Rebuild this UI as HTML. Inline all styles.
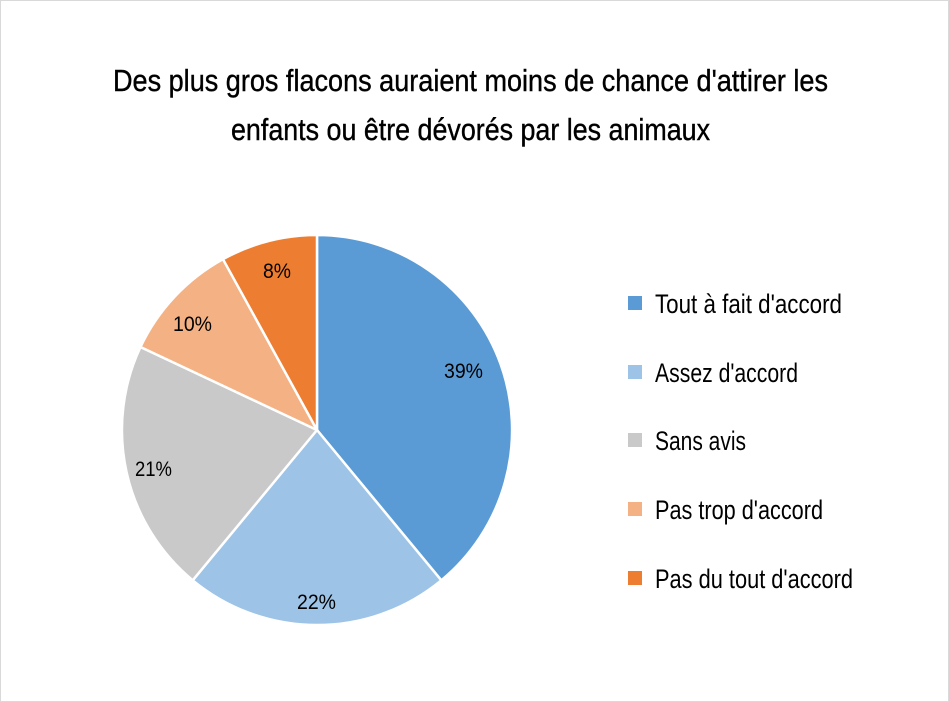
<!DOCTYPE html>
<html><head><meta charset="utf-8"><style>
html,body{margin:0;padding:0;background:#fff}
svg{display:block}
text{font-family:"Liberation Sans Narrow","Liberation Sans",sans-serif;fill:#000}
</style></head><body>
<svg width="949" height="702" viewBox="0 0 949 702" xmlns="http://www.w3.org/2000/svg">
<rect x="0.5" y="0.5" width="948" height="701" fill="#fff" stroke="#d9d9d9"/>
<text x="113" y="91" font-size="31" stroke="#000" stroke-width="0.4" textLength="715" lengthAdjust="spacingAndGlyphs">Des plus gros flacons auraient moins de chance d'attirer les</text>
<text x="231" y="140" font-size="31" stroke="#000" stroke-width="0.4" textLength="479" lengthAdjust="spacingAndGlyphs">enfants ou être dévorés par les animaux</text>
<g stroke="#fff" stroke-width="2.5" stroke-linejoin="round">
<path d="M317,430 L317,235 A195,195 0 0 1 441.3,580.3 Z" fill="#5B9BD5"/>
<path d="M317,430 L441.3,580.3 A195,195 0 0 1 192.7,580.3 Z" fill="#9DC3E6"/>
<path d="M317,430 L192.7,580.3 A195,195 0 0 1 140.5,347 Z" fill="#C9C9C9"/>
<path d="M317,430 L140.5,347 A195,195 0 0 1 223,259.2 Z" fill="#F4B183"/>
<path d="M317,430 L223,259.2 A195,195 0 0 1 317,235 Z" fill="#ED7D31"/>
</g>
<g font-size="21">
<text x="444" y="378" textLength="39" lengthAdjust="spacingAndGlyphs">39%</text>
<text x="297" y="609" textLength="39" lengthAdjust="spacingAndGlyphs">22%</text>
<text x="135" y="476" textLength="37" lengthAdjust="spacingAndGlyphs">21%</text>
<text x="173" y="331" textLength="39" lengthAdjust="spacingAndGlyphs">10%</text>
<text x="263" y="278" textLength="28" lengthAdjust="spacingAndGlyphs">8%</text>
</g>
<rect x="628" y="296" width="14" height="14" fill="#5B9BD5"/>
<rect x="628" y="365" width="14" height="14" fill="#9DC3E6"/>
<rect x="628" y="433" width="14" height="14" fill="#C9C9C9"/>
<rect x="628" y="502" width="14" height="14" fill="#F4B183"/>
<rect x="628" y="571" width="14" height="14" fill="#ED7D31"/>
<g font-size="27">
<text x="655" y="313" textLength="187" lengthAdjust="spacingAndGlyphs">Tout à fait d'accord</text>
<text x="655" y="382" textLength="143" lengthAdjust="spacingAndGlyphs">Assez d'accord</text>
<text x="655" y="450" textLength="91" lengthAdjust="spacingAndGlyphs">Sans avis</text>
<text x="655" y="519" textLength="168" lengthAdjust="spacingAndGlyphs">Pas trop d'accord</text>
<text x="655" y="588" textLength="198" lengthAdjust="spacingAndGlyphs">Pas du tout d'accord</text>
</g>
</svg>
</body></html>
